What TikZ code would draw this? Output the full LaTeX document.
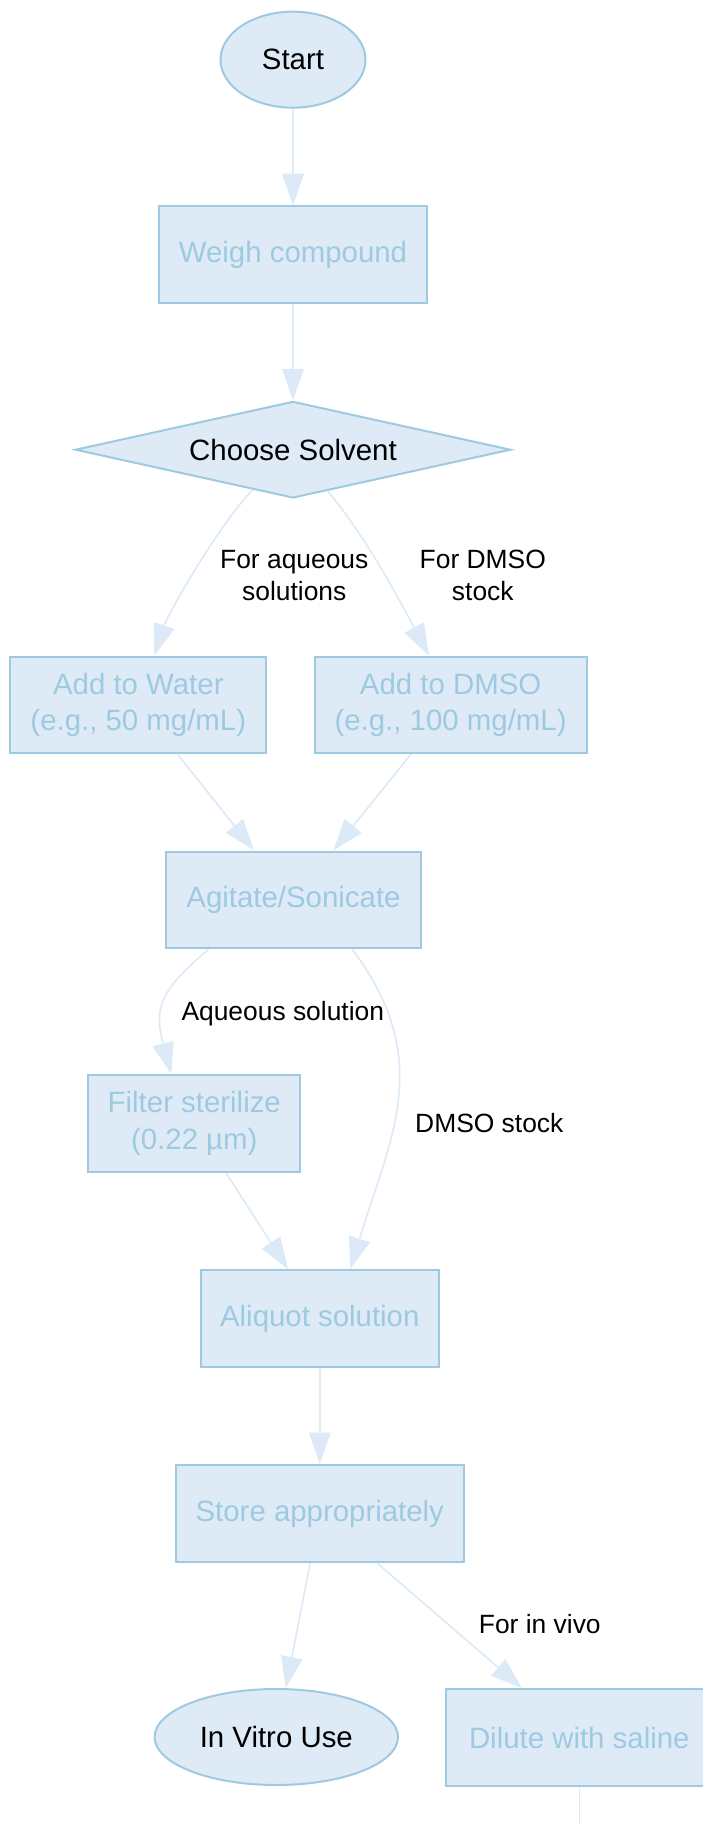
\documentclass[tikz,border=0pt]{standalone}
\usepackage{fontspec}
\setmainfont{Liberation Sans}
\usepackage{xcolor}
\usepackage{tikz}
\usetikzlibrary{positioning,shapes,arrows.meta}

\definecolor{boxfill}{HTML}{DEEBF7}
\definecolor{boxline}{HTML}{9ECAE1}
\definecolor{edgeline}{HTML}{DCE9F6}

\begin{document}
\begin{tikzpicture}[
  node distance=97.5pt,
  stepbox/.style={rectangle, draw=boxline, fill=boxfill, text=boxline, line width=1pt, minimum height=48.4pt, inner sep=0pt, align=center, font=\fontsize{14.7pt}{18.35pt}\selectfont},
  terminal/.style={ellipse, draw=boxline, fill=boxfill, line width=1pt, minimum height=48pt, inner sep=0pt, font=\fontsize{14.7pt}{18.35pt}\selectfont},
  decision/.style={diamond, aspect=4.5, draw=boxline, fill=boxfill, line width=1pt, minimum width=217.7pt, minimum height=48.3pt, inner sep=0pt, font=\fontsize{14.7pt}{18.35pt}\selectfont},
  lbl/.style={align=center, inner sep=0pt, font=\fontsize{13.2pt}{15.8pt}\selectfont},
  arrow/.style={-{Triangle[length=15.8pt, width=10.8pt]}, draw=edgeline, line width=0.8pt},
]
  \useasboundingbox (-146.5pt,29.85pt) rectangle (204.5pt,-881.65pt);

  \node[terminal, minimum width=72.5pt] (start) {Start};
  \node[stepbox, minimum width=134pt, below of=start] (weigh) {Weigh compound};
  \node[decision, below of=weigh] (choose) {Choose Solvent};
  \node[stepbox, minimum width=128pt, below of=choose, xshift=-77.35pt, yshift=-30.15pt] (water) {Add to Water\\(e.g., 50 mg/mL)};
  \node[stepbox, minimum width=136pt, below of=choose, xshift=78.8pt, yshift=-30.15pt] (dmso) {Add to DMSO\\(e.g., 100 mg/mL)};
  \node[stepbox, minimum width=127pt, below of=water, xshift=77.6pt] (agitate) {Agitate/Sonicate};
  \node[stepbox, minimum width=105.9pt, below of=agitate, xshift=-49.6pt, yshift=-14.25pt] (filter) {Filter sterilize\\(0.22 µm)};
  \node[stepbox, minimum width=119pt, below of=filter, xshift=62.75pt] (aliquot) {Aliquot solution};
  \node[stepbox, minimum width=144.2pt, below of=aliquot] (store) {Store appropriately};
  \node[terminal, minimum width=121.7pt, below of=store, xshift=-21.75pt, yshift=-14.25pt] (invitro) {In Vitro Use};
  \node[stepbox, minimum width=133pt, below of=store, xshift=129.75pt, yshift=-14.5pt] (dilute) {Dilute with saline};
  \coordinate[below of=dilute] (nextstep);

  % edge labels
  \node[lbl, below of=choose, xshift=0.65pt, yshift=34.5pt] (lblwater) {For aqueous\\solutions};
  \node[lbl, below of=choose, xshift=94.9pt, yshift=34.5pt] (lbldmso) {For DMSO\\stock};
  \node[lbl, below of=agitate, xshift=-5.35pt, yshift=40.45pt] (lblaqueous) {Aqueous solution};
  \node[lbl, below of=agitate, xshift=97.9pt, yshift=-13.8pt] (lblstock) {DMSO stock};
  \node[lbl, below of=store, xshift=110pt, yshift=42pt] (lblvivo) {For in vivo};

  \draw[arrow] (start) -- (weigh);
  \draw[arrow] (weigh) -- (choose);
  \draw[arrow] (choose) to[out=225, in=72, looseness=0.6] (water);
  \draw[arrow] (choose) to[out=-50, in=118, looseness=0.8] ([xshift=-10.8pt]dmso.north);
  \draw[arrow] (water) -- (agitate);
  \draw[arrow] (dmso) -- (agitate);
  \draw[arrow] ([xshift=-42.5pt]agitate.south) to[out=220, in=105, looseness=1.3] ([xshift=-11.5pt]filter.north);
  \draw[arrow] ([xshift=29.4pt]agitate.south) to[out=-53, in=73, looseness=1.1] ([xshift=15.25pt]aliquot.north);
  \draw[arrow] (filter) -- (aliquot);
  \draw[arrow] (aliquot) -- (store);
  \draw[arrow] (store) -- (invitro);
  \draw[arrow] (store) -- (dilute);
  \draw[arrow] (dilute) -- (nextstep);
\end{tikzpicture}
\end{document}
